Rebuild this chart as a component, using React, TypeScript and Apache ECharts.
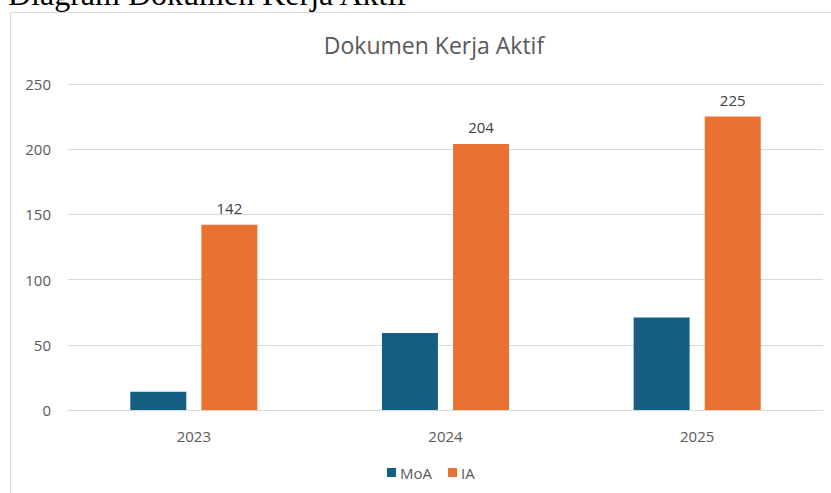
import React, { useEffect, useRef } from "react";
import * as echarts from "echarts";

const categories = ["2023", "2024", "2025"];
const moaValues = [14, 59, 71];
const iaValues = [142, 204, 225];
const seriesNames = ["MoA", "IA"];
const yTicks = [0, 50, 100, 150, 200, 250];
const pageHeading = "Diagram Dokumen Kerja Aktif";
const chartTitle = "Dokumen Kerja Aktif";

const FONT = "'Open Sans', sans-serif";

export default function App() {
  const ref = useRef<HTMLDivElement>(null);
  useEffect(() => {
    if (!ref.current) return;
    const chart = echarts.init(ref.current, undefined, { renderer: "svg" });
    chart.setOption({
      animation: false,
      backgroundColor: "#ffffff",
      title: {
        text: chartTitle,
        left: 429,
        textAlign: "center",
        top: 28,
        textStyle: { fontFamily: FONT, fontSize: 23, fontWeight: "normal", color: "#595959" },
      },
      graphic: [
        {
          type: "rect",
          shape: { x: 10.5, y: 12.5, width: 900, height: 600 },
          style: { fill: "none", stroke: "#d9d9d9", lineWidth: 1 },
          z: 0,
        },
        {
          type: "text",
          x: 8,
          y: -22,
          style: {
            text: pageHeading,
            fontFamily: "'Liberation Serif', 'Times New Roman', serif",
            fontSize: 32,
            fill: "#000000",
          },
          z: 10,
        },
      ],
      legend: {
        data: seriesNames,
        left: 382,
        top: 460,
        icon: "rect",
        itemWidth: 9,
        itemHeight: 9,
        itemGap: 16,
        textStyle: { fontFamily: FONT, fontSize: 15, color: "#595959", padding: [0, 0, 0, -1] },
      },
      grid: { left: 68, right: 8, top: 84, bottom: 83 },
      xAxis: {
        type: "category",
        data: categories,
        axisLine: { lineStyle: { color: "#d9d9d9", width: 1 } },
        axisTick: { show: false },
        axisLabel: { fontFamily: FONT, fontSize: 15, color: "#595959", margin: 18 },
      },
      yAxis: {
        type: "value",
        min: yTicks[0],
        max: yTicks[yTicks.length - 1],
        interval: 50,
        axisLine: { show: false },
        axisTick: { show: false },
        splitLine: { lineStyle: { color: "#d9d9d9", width: 1 } },
        axisLabel: { fontFamily: FONT, fontSize: 15, color: "#595959", margin: 17 },
      },
      series: [
        {
          name: seriesNames[0],
          type: "bar",
          data: moaValues,
          barWidth: 56,
          barGap: "27%",
          itemStyle: { color: "#156082" },
        },
        {
          name: seriesNames[1],
          type: "bar",
          data: iaValues,
          barWidth: 56,
          barGap: "27%",
          itemStyle: { color: "#E97132" },
          label: {
            show: true,
            position: "top",
            distance: 9,
            fontFamily: FONT,
            fontSize: 15,
            color: "#404040",
          },
        },
      ],
    });
    return () => chart.dispose();
  }, []);
  return (
    <div
      ref={ref}
      style={{ position: "fixed", left: 0, top: 0, width: 831, height: 493 }}
    />
  );
}
